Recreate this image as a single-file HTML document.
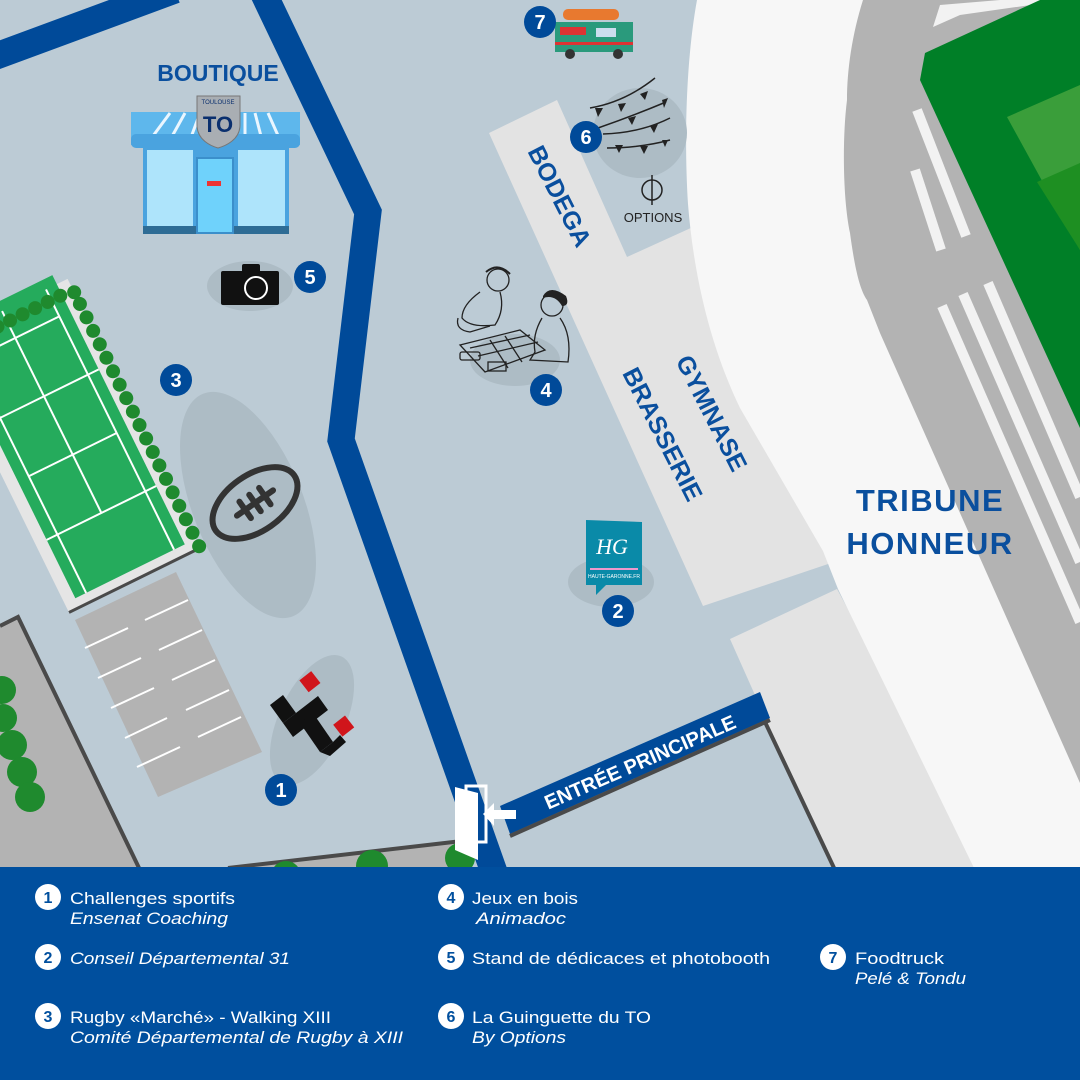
<!DOCTYPE html>
<html><head><meta charset="utf-8"><style>
html,body{margin:0;padding:0;background:#bccbd5}
svg{display:block}
</style></head><body>
<svg width="1080" height="1080" viewBox="0 0 1080 1080" xmlns="http://www.w3.org/2000/svg" font-family="Liberation Sans, sans-serif">
<rect width="1080" height="1080" fill="#bccbd5"/>

<!-- building bodega/gymnase -->
<polygon points="489,133 557,100 627,257 693,227 840,560 703,606" fill="#e3e3e3"/>
<!-- lower light building -->
<polygon points="730,639 837,589 990,870 833,870" fill="#e3e3e3"/>
<line x1="765" y1="722" x2="835" y2="870" stroke="#4a4a4a" stroke-width="4"/>

<!-- white stadium area -->
<path d="M697,0 C686,60 684,140 688,204 C694,280 712,350 740,408 L823,551 L838,589 L975,870 L1080,870 L1080,0 Z" fill="#f7f7f7"/>
<!-- gray band -->
<path d="M863,0 C852,35 847,70 847,100 C842,140 843,200 850,233 C855,270 860,290 867,300 L880,333 L1080,783 L1080,0 Z" fill="#b3b3b3"/>
<!-- top white strip -->
<polygon points="933,27 940,5 1000,0 1080,0 1080,-2 960,15" fill="#f2f2f2"/>
<!-- green field -->
<polygon points="920,80 925,53 1040,0 1080,0 1080,428" fill="#007f27"/>
<polygon points="1007,117 1080,85 1080,250" fill="#3a9e3a"/>
<polygon points="1037,182 1080,163 1080,250" fill="#1e8f22"/>
<!-- stand stripes -->
<g stroke="#f2f2f2" stroke-width="10" stroke-linecap="butt">
<line x1="917" y1="110" x2="966" y2="236"/>
<line x1="915" y1="170" x2="941" y2="250"/>
<line x1="942" y1="306" x2="1080" y2="622"/>
<line x1="963" y1="294" x2="1080" y2="562"/>
<line x1="988" y1="283" x2="1080" y2="497"/>
</g>

<!-- blue roads -->
<polyline points="-20,62 175,-10" fill="none" stroke="#004a99" stroke-width="27"/>
<polyline points="262,-10 368,212 341,440 494,872" fill="none" stroke="#004a99" stroke-width="27" stroke-linejoin="miter"/>

<!-- shadows -->
<g fill="#adbcc5">
<ellipse cx="248" cy="505" rx="55" ry="120" transform="rotate(-22 248 505)"/>
<ellipse cx="312" cy="720" rx="33" ry="70" transform="rotate(25 312 720)"/>
<ellipse cx="250" cy="286" rx="43" ry="25"/>
<ellipse cx="640" cy="133" rx="47" ry="45"/>
<ellipse cx="611" cy="582" rx="43" ry="25"/>
<ellipse cx="515" cy="360" rx="45" ry="26"/>
</g>

<!-- tennis court -->
<g transform="translate(200,548) rotate(153.8)">
<rect x="0" y="0" width="146" height="300" fill="#e5e5e5"/>
<line x1="0" y1="0" x2="146" y2="0" stroke="#4a4a4a" stroke-width="3"/>
<rect x="12" y="10" width="122" height="300" fill="#25ab5c"/>
<g stroke="#fff" stroke-width="2" fill="none">
<line x1="24" y1="10" x2="24" y2="300"/>
<line x1="122" y1="10" x2="122" y2="300"/>
<line x1="12" y1="75" x2="134" y2="75"/>
<line x1="24" y1="140" x2="122" y2="140"/>
<line x1="73" y1="75" x2="73" y2="300"/>
<line x1="12" y1="205" x2="134" y2="205"/>
<line x1="24" y1="270" x2="122" y2="270"/>
</g>
<g fill="#1f8a2e">
<circle cx="0" cy="2" r="7"/><circle cx="0" cy="17" r="7"/><circle cx="0" cy="32" r="7"/><circle cx="0" cy="47" r="7"/><circle cx="0" cy="62" r="7"/><circle cx="0" cy="77" r="7"/><circle cx="0" cy="92" r="7"/><circle cx="0" cy="107" r="7"/><circle cx="0" cy="122" r="7"/><circle cx="0" cy="137" r="7"/><circle cx="0" cy="152" r="7"/><circle cx="0" cy="167" r="7"/><circle cx="0" cy="182" r="7"/><circle cx="0" cy="197" r="7"/><circle cx="0" cy="212" r="7"/><circle cx="0" cy="227" r="7"/><circle cx="0" cy="242" r="7"/><circle cx="0" cy="257" r="7"/><circle cx="0" cy="272" r="7"/><circle cx="0" cy="285" r="7"/>
<circle cx="14" cy="288" r="7"/><circle cx="28" cy="288" r="7"/><circle cx="42" cy="288" r="7"/><circle cx="56" cy="288" r="7"/><circle cx="70" cy="288" r="7"/><circle cx="84" cy="288" r="7"/><circle cx="98" cy="288" r="7"/>
</g>
</g>

<!-- parking -->
<polygon points="75,620 176,572 262,752 158,797" fill="#b3b3b3"/>
<g stroke="#fff" stroke-width="2">
<line x1="145" y1="620" x2="188" y2="600"/><line x1="159" y1="650" x2="202" y2="630"/><line x1="172" y1="680" x2="215" y2="660"/><line x1="186" y1="710" x2="229" y2="690"/><line x1="198" y1="737" x2="241" y2="717"/>
<line x1="85" y1="648" x2="128" y2="628"/><line x1="98" y1="678" x2="141" y2="658"/><line x1="111" y1="708" x2="154" y2="688"/><line x1="125" y1="738" x2="167" y2="718"/><line x1="137" y1="767" x2="180" y2="747"/>
</g>

<!-- left gray zone -->
<polygon points="0,626 18,617 140,870 0,870" fill="#b3b3b3"/>
<polyline points="0,626 18,617 140,870" fill="none" stroke="#4a4a4a" stroke-width="4"/>
<g fill="#1f8a2e">
<circle cx="2" cy="690" r="14"/><circle cx="3" cy="718" r="14"/><circle cx="12" cy="745" r="15"/><circle cx="22" cy="772" r="15"/><circle cx="30" cy="797" r="15"/>
</g>
<!-- bottom gray strip -->
<polygon points="228,870 462,840 470,870" fill="#b3b3b3"/>
<line x1="228" y1="868" x2="462" y2="841" stroke="#4a4a4a" stroke-width="4"/>
<g fill="#1f8a2e"><circle cx="286" cy="876" r="15"/><circle cx="372" cy="866" r="16"/><circle cx="460" cy="858" r="15"/></g>

<!-- entree principale -->
<polygon points="500,806 760,692 770,718 510,834" fill="#004a99"/>
<line x1="510" y1="836" x2="770" y2="720" stroke="#4a4a4a" stroke-width="4"/>
<text x="640" y="769" fill="#fff" font-size="20" font-weight="bold" text-anchor="middle" transform="rotate(-23.6 640 762)">ENTRÉE PRINCIPALE</text>
<!-- door -->
<rect x="466" y="786" width="20" height="56" fill="none" stroke="#fff" stroke-width="3"/>
<polygon points="455,787 478,793 478,860 455,850" fill="#fff"/>
<polygon points="483,814 494,803 494,810 516,810 516,819 494,819 494,826" fill="#fff"/>

<!-- ensenat logo -->
<g fill="#111">
<polygon points="270,705 283,695 296,713 283,723"/>
<polygon points="283,723 318,696 328,710 293,737"/>
<polygon points="300,723 313,713 333,742 320,752"/>
<polygon points="320,752 333,742 340,735 346,742 330,756"/>
</g>
<rect x="302" y="674" width="15" height="15" fill="#d0151b" transform="rotate(-38 310 681)"/>
<rect x="336" y="719" width="15" height="15" fill="#d0151b" transform="rotate(-38 343 726)"/>

<!-- rugby ball -->
<g transform="translate(255,503) rotate(-35)">
<ellipse cx="0" cy="0" rx="48" ry="28" fill="none" stroke="#333" stroke-width="6"/>
<line x1="-22" y1="0" x2="22" y2="0" stroke="#333" stroke-width="6" stroke-linecap="round"/>
<line x1="-12" y1="-10" x2="-12" y2="10" stroke="#333" stroke-width="6" stroke-linecap="round"/>
<line x1="0" y1="-10" x2="0" y2="10" stroke="#333" stroke-width="6" stroke-linecap="round"/>
<line x1="12" y1="-10" x2="12" y2="10" stroke="#333" stroke-width="6" stroke-linecap="round"/>
</g>

<!-- camera -->
<rect x="221" y="271" width="58" height="34" rx="2" fill="#111"/>
<rect x="242" y="264" width="18" height="9" rx="2" fill="#111"/>
<circle cx="256" cy="288" r="11" fill="none" stroke="#fff" stroke-width="2"/>

<!-- boutique -->
<text x="218" y="81" fill="#0a4f9e" font-size="23" font-weight="bold" text-anchor="middle">BOUTIQUE</text>
<rect x="143" y="146" width="146" height="87" fill="#4aa3df"/>
<rect x="147" y="150" width="46" height="77" fill="#aee4fb"/>
<rect x="238" y="150" width="47" height="77" fill="#aee4fb"/>
<rect x="143" y="226" width="146" height="8" fill="#2e6c95"/>
<rect x="197" y="158" width="36" height="75" fill="#6fd2fb" stroke="#3b8fcb" stroke-width="2"/>
<rect x="207" y="181" width="14" height="5" fill="#e33"/>
<path d="M131,112 L300,112 L300,145 L131,145 Z" fill="#5eb7ec"/>
<g stroke="#eaf6ff" stroke-width="3"><line x1="150" y1="140" x2="170" y2="113"/><line x1="170" y1="140" x2="185" y2="113"/><line x1="190" y1="140" x2="200" y2="113"/><line x1="245" y1="140" x2="245" y2="113"/><line x1="262" y1="140" x2="255" y2="113"/><line x1="280" y1="140" x2="268" y2="113"/></g>
<rect x="131" y="134" width="169" height="14" rx="5" fill="#4aa3df"/>
<path d="M197,96 L240,96 L240,125 C240,140 225,146 218,148 C211,146 197,140 197,125 Z" fill="#a9aeb3" stroke="#777" stroke-width="1"/>
<text x="218" y="104" fill="#0a2f6e" font-size="6" text-anchor="middle">TOULOUSE</text>
<text x="218" y="132" fill="#0a2f6e" font-size="22" font-weight="bold" text-anchor="middle">TO</text>

<!-- foodtruck -->
<rect x="563" y="9" width="56" height="11" rx="5" fill="#e8792f"/>
<rect x="555" y="22" width="78" height="30" fill="#2a9a7c"/>
<rect x="560" y="27" width="26" height="8" fill="#d33"/>
<rect x="596" y="28" width="20" height="9" fill="#cde"/>
<rect x="555" y="42" width="78" height="3" fill="#d33"/>
<circle cx="570" cy="54" r="5" fill="#333"/><circle cx="618" cy="54" r="5" fill="#333"/>

<!-- bunting -->
<g stroke="#222" stroke-width="1.5" fill="none">
<path d="M590,108 Q625,102 655,78"/><path d="M598,128 Q635,115 666,102"/><path d="M603,134 Q640,133 670,118"/><path d="M607,148 Q640,148 670,140"/>
</g>
<g fill="#222">
<polygon points="595,108 603,108 598,117"/><polygon points="618,104 626,103 621,112"/><polygon points="640,94 648,91 645,100"/><polygon points="662,100 668,98 664,108"/><polygon points="628,118 636,116 632,125"/><polygon points="650,126 658,124 654,133"/><polygon points="615,145 623,145 619,153"/><polygon points="640,146 648,146 644,154"/><polygon points="662,140 668,140 665,147"/>
</g>
<!-- options -->
<circle cx="652" cy="190" r="10" fill="none" stroke="#222" stroke-width="1.5"/>
<line x1="652" y1="175" x2="652" y2="205" stroke="#222" stroke-width="1.5"/>
<text x="653" y="222" fill="#222" font-size="13" text-anchor="middle">OPTIONS</text>

<!-- kids (sketchy) -->
<g fill="none" stroke="#222" stroke-width="1.3">
<polygon points="460,345 520,330 545,350 485,372"/>
<line x1="470" y1="348" x2="530" y2="335"/><line x1="478" y1="356" x2="538" y2="342"/><line x1="490" y1="340" x2="508" y2="368"/><line x1="505" y1="336" x2="522" y2="362"/>
<circle cx="498" cy="280" r="11"/><path d="M480,292 Q462,305 462,318 Q470,328 495,325 Q505,310 500,292"/>
<path d="M458,318 Q455,330 470,332 L490,326"/>
<circle cx="552" cy="305" r="11"/><path d="M542,318 Q532,335 535,352 L530,360 L568,362 Q572,335 560,318"/>
<rect x="460" y="352" width="20" height="8" rx="2"/><rect x="488" y="362" width="18" height="9"/>
</g>
<path d="M543,296 Q550,284 566,296 Q570,306 562,306 Q555,294 543,298Z" fill="#222"/>
<path d="M486,272 Q498,262 510,274" fill="none" stroke="#222" stroke-width="2"/>

<!-- HG sign -->
<polygon points="586,520 642,522 642,585 606,585 596,595 596,585 586,585" fill="#0a8aa8"/>
<text x="612" y="554" fill="#fff" font-size="22" font-style="italic" text-anchor="middle" font-family="Liberation Serif, serif">HG</text>
<rect x="590" y="568" width="48" height="2" fill="#e9c"/>
<text x="614" y="578" fill="#fff" font-size="5" text-anchor="middle">HAUTE-GARONNE.FR</text>

<!-- building labels -->
<g fill="#0a4f9e" font-weight="bold" text-anchor="middle">
<text x="560" y="205" font-size="25" transform="rotate(63 560 196)">BODEGA</text>
<text x="712" y="422" font-size="25" transform="rotate(63 712 413)">GYMNASE</text>
<text x="663" y="443" font-size="25" transform="rotate(63 663 434)">BRASSERIE</text>
<text x="930" y="511" font-size="31" letter-spacing="1.5">TRIBUNE</text>
<text x="930" y="554" font-size="31" letter-spacing="1.5">HONNEUR</text>
</g>

<!-- map markers -->
<g font-weight="bold" font-size="20" text-anchor="middle" fill="#fff">
<circle cx="540" cy="22" r="16" fill="#004a99"/><text x="540" y="29">7</text>
<circle cx="586" cy="137" r="16" fill="#004a99"/><text x="586" y="144">6</text>
<circle cx="310" cy="277" r="16" fill="#004a99"/><text x="310" y="284">5</text>
<circle cx="176" cy="380" r="16" fill="#004a99"/><text x="176" y="387">3</text>
<circle cx="546" cy="390" r="16" fill="#004a99"/><text x="546" y="397">4</text>
<circle cx="618" cy="611" r="16" fill="#004a99"/><text x="618" y="618">2</text>
<circle cx="281" cy="790" r="16" fill="#004a99"/><text x="281" y="797">1</text>
</g>

<!-- legend -->
<rect x="0" y="867" width="1080" height="213" fill="#004f9e"/>
<g font-weight="bold" font-size="16" text-anchor="middle" fill="#004f9e">
<circle cx="48" cy="897" r="13" fill="#fff"/><text x="48" y="903">1</text>
<circle cx="48" cy="957" r="13" fill="#fff"/><text x="48" y="963">2</text>
<circle cx="48" cy="1016" r="13" fill="#fff"/><text x="48" y="1022">3</text>
<circle cx="451" cy="897" r="13" fill="#fff"/><text x="451" y="903">4</text>
<circle cx="451" cy="957" r="13" fill="#fff"/><text x="451" y="963">5</text>
<circle cx="451" cy="1016" r="13" fill="#fff"/><text x="451" y="1022">6</text>
<circle cx="833" cy="957" r="13" fill="#fff"/><text x="833" y="963">7</text>
</g>
<g fill="#fff" font-size="17">
<text x="70" y="904" textLength="165" lengthAdjust="spacingAndGlyphs">Challenges sportifs</text>
<text x="70" y="924" font-style="italic" textLength="158" lengthAdjust="spacingAndGlyphs">Ensenat Coaching</text>
<text x="70" y="964" font-style="italic" textLength="220" lengthAdjust="spacingAndGlyphs">Conseil Départemental 31</text>
<text x="70" y="1023" textLength="261" lengthAdjust="spacingAndGlyphs">Rugby «Marché» - Walking XIII</text>
<text x="70" y="1043" font-style="italic" textLength="333" lengthAdjust="spacingAndGlyphs">Comité Départemental de Rugby à XIII</text>
<text x="472" y="904" textLength="106" lengthAdjust="spacingAndGlyphs">Jeux en bois</text>
<text x="476" y="924" font-style="italic" textLength="90" lengthAdjust="spacingAndGlyphs">Animadoc</text>
<text x="472" y="964" textLength="298" lengthAdjust="spacingAndGlyphs">Stand de dédicaces et photobooth</text>
<text x="472" y="1023" textLength="179" lengthAdjust="spacingAndGlyphs">La Guinguette du TO</text>
<text x="472" y="1043" font-style="italic" textLength="94" lengthAdjust="spacingAndGlyphs">By Options</text>
<text x="855" y="964" textLength="89" lengthAdjust="spacingAndGlyphs">Foodtruck</text>
<text x="855" y="984" font-style="italic" textLength="111" lengthAdjust="spacingAndGlyphs">Pelé &amp; Tondu</text>
</g>
</svg>
</body></html>
